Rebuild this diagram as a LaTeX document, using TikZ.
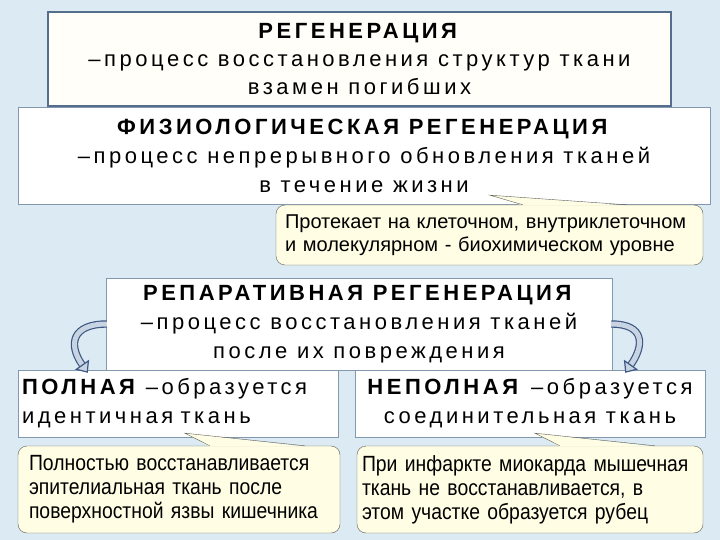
\documentclass[tikz,border=0pt]{standalone}
\usepackage{fontspec}
\setmainfont{Liberation Sans}
\newfontfamily\spacedfont[LetterSpace=16]{Liberation Sans}
\newfontfamily\narrowfont[FakeStretch=0.88]{Liberation Sans}
\usetikzlibrary{arrows.meta, positioning}

\definecolor{bgblue}{RGB}{219,234,243}
\definecolor{topline}{RGB}{84,110,140}
\definecolor{boxline}{RGB}{130,152,175}
\definecolor{boxcream}{RGB}{255,254,248}
\definecolor{notefill}{RGB}{255,253,228}
\definecolor{noteline}{RGB}{95,95,85}
\definecolor{arrowedge}{RGB}{62,88,132}
\definecolor{arrowfill}{RGB}{200,212,226}

\tikzset{
  mainbox/.style={draw=boxline, fill=white, inner sep=4pt, align=center,
    font=\spacedfont\fontsize{22}{29}\selectfont},
  topbox/.style={mainbox, draw=topline, line width=2pt, fill=boxcream},
  notebox/.style={draw=noteline, fill=notefill, rounded corners=9pt,
    align=left, inner sep=0pt},
  bendarrow/.style={draw=arrowedge, line width=1.2pt, double=arrowfill,
    double distance=5pt, -{Triangle[length=10pt,width=17pt,fill=arrowfill]}}
}

\begin{document}
\begin{tikzpicture}[x=1pt, y=-1pt]
\fill[bgblue] (0,0) rectangle (720,540);
\useasboundingbox (0,0) rectangle (720,540);

% Physiological and general regeneration
\node[mainbox, minimum width=692pt, minimum height=97pt] (phys) at (364,155.5)
  {\textbf{ФИЗИОЛОГИЧЕСКАЯ РЕГЕНЕРАЦИЯ}\\–процесс непрерывного обновления тканей\\в течение жизни};
\node[topbox, minimum width=623pt, minimum height=94pt,
  font=\spacedfont\fontsize{22}{28}\selectfont] (regen) at (359.5,59)
  {\textbf{РЕГЕНЕРАЦИЯ}\\–процесс восстановления структур ткани\\взамен погибших};

% Reparative regeneration
\node[mainbox, minimum width=320pt, minimum height=67pt, text width=312pt, align=left] (full) at (178,403.5)
  {\textbf{ПОЛНАЯ} –образуется\\идентичная ткань};
\node[mainbox, minimum width=350pt, minimum height=67pt] (part) at (530,403.5)
  {\textbf{НЕПОЛНАЯ} –образуется\\соединительная ткань};
\node[mainbox, minimum width=506pt, minimum height=92pt] (repar) at (359,324)
  {\textbf{РЕПАРАТИВНАЯ РЕГЕНЕРАЦИЯ}\\–процесс восстановления тканей\\после их повреждения};

% Notes
\node[notebox, minimum width=427pt, minimum height=60pt, text width=409pt,
  font=\fontsize{20}{23}\selectfont] (physnote) at (489.5,235)
  {Протекает на клеточном, внутриклеточном\\и молекулярном - биохимическом уровне};
\node[notebox, minimum width=322pt, minimum height=87pt, text width=300pt,
  font=\narrowfont\fontsize{22}{24}\selectfont] (fullnote) at (179,489.5)
  {Полностью восстанавливается\\эпителиальная ткань после\\поверхностной язвы кишечника};
\node[notebox, minimum width=346pt, minimum height=87pt, text width=336pt,
  font=\narrowfont\fontsize{22}{24}\selectfont] (partnote) at (530,489.5)
  {При инфаркте миокарда мышечная\\ткань не восстанавливается, в\\этом участке образуется рубец};

\coordinate (physTip) at ([xshift=126pt,yshift=9pt]phys.south);
\coordinate (fullTip) at ([xshift=7pt,yshift=4pt]full.south);
\coordinate (partTip) at ([xshift=5pt,yshift=4pt]part.south);

% Pointers of the notes
\foreach \nt/\tp/\a/\b in {physnote/physTip/247/351, fullnote/fullTip/192/287, partnote/partTip/203/298} {
  \fill[notefill] (\tp) -- ([xshift=\a pt,yshift=-0.8pt]\nt.north west)
    -- ([xshift=\b pt,yshift=-0.8pt]\nt.north west) -- cycle;
  \draw[noteline] ([xshift=\a pt]\nt.north west) -- (\tp) -- ([xshift=\b pt]\nt.north west);
}

% Bent arrows
\draw[bendarrow] ([xshift=1pt]repar.west) to[out=180, in=125, looseness=1.7]
  ([xshift=70pt,yshift=-3pt]full.north west);
\draw[bendarrow] ([xshift=-1pt]repar.east) to[out=0, in=55, looseness=1.7]
  ([xshift=-80pt,yshift=-3pt]part.north east);
\end{tikzpicture}
\end{document}
